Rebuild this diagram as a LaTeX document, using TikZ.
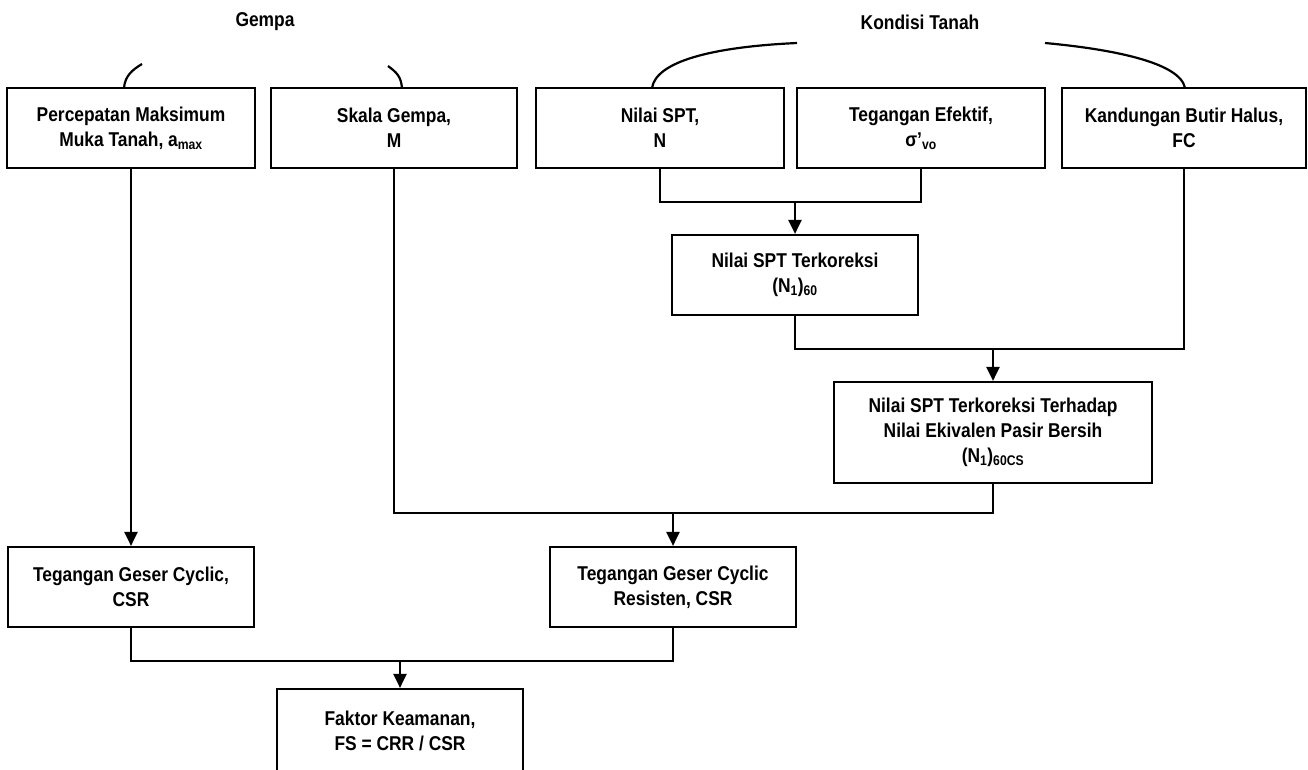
\documentclass[tikz,border=0pt]{standalone}
\usepackage{fontspec}
\setmainfont{Liberation Sans}[FakeStretch=0.87]
\usetikzlibrary{arrows.meta}
\tikzset{
  kotak/.style={draw, line width=2.2pt, inner sep=0pt, align=center, minimum height=80pt},
  panah/.style={line width=2.2pt, -{Triangle[length=14pt,width=13pt]}},
  garis/.style={line width=2.2pt},
}
\begin{document}
\begin{tikzpicture}[x=1pt, y=-1pt, font=\fontsize{20}{25}\selectfont\bfseries]
\useasboundingbox (0,0) rectangle (1308,769);
\node (gempa) at (265,22) {Gempa};
\node (kondisi) at (920,22) {Kondisi Tanah};
\node (amax) [kotak, minimum width=248pt] at (131,128) {Percepatan Maksimum\\Muka Tanah, a\textsubscript{max}};
\node (skala) [kotak, minimum width=246pt] at (394,128) {Skala Gempa,\\M};
\node (spt) [kotak, minimum width=248pt] at (660,128) {Nilai SPT,\\N};
\node (sigma) [kotak, minimum width=248pt] at (921,128) {Tegangan Efektif,\\σ’\textsubscript{vo}};
\node (fc) [kotak, minimum width=244pt] at (1184,128) {Kandungan Butir Halus,\\FC};
\node (n160) [kotak, minimum width=246pt] at (795,275) {Nilai SPT Terkoreksi\\(N\textsubscript{1})\textsubscript{60}};
\node (n160cs) [kotak, minimum width=318pt, minimum height=101pt] at (993,432.5) {Nilai SPT Terkoreksi Terhadap\\Nilai Ekivalen Pasir Bersih\\(N\textsubscript{1})\textsubscript{60CS}};
\node (csr) [kotak, minimum width=246pt] at (131,587) {Tegangan Geser Cyclic,\\CSR};
\node (crr) [kotak, minimum width=246pt] at (673,587) {Tegangan Geser Cyclic\\Resisten, CSR};
\node (fs) [kotak, minimum width=246pt, minimum height=84pt] at (400,731) {Faktor Keamanan,\\FS = CRR / CSR};
\coordinate (j1) at (795,202);
\coordinate (j2) at (993,349);
\coordinate (j3) at (673,513);
\coordinate (j4) at (400,661);
\draw [garis] (124,88) .. controls (125,76) and (132,70) .. (142,64);
\draw [garis] (402,88) .. controls (401,76) and (396,72) .. (388,66);
\draw [garis] (652,88) .. controls (656,62) and (710,47) .. (797,43);
\draw [garis] (1045,43) .. controls (1110,49) and (1180,62) .. (1185,88);
\draw [panah] (amax) -- (csr);
\draw [garis] (spt.south) |- (j1) -| (sigma.south);
\draw [panah] (j1) -- (n160);
\draw [garis] (n160.south) |- (j2) -| (fc.south);
\draw [panah] (j2) -- (n160cs);
\draw [garis] (skala.south) |- (j3) -| (n160cs.south);
\draw [panah] (j3) -- (crr);
\draw [garis] (csr.south) |- (j4) -| (crr.south);
\draw [panah] (j4) -- (fs);
\end{tikzpicture}
\end{document}
